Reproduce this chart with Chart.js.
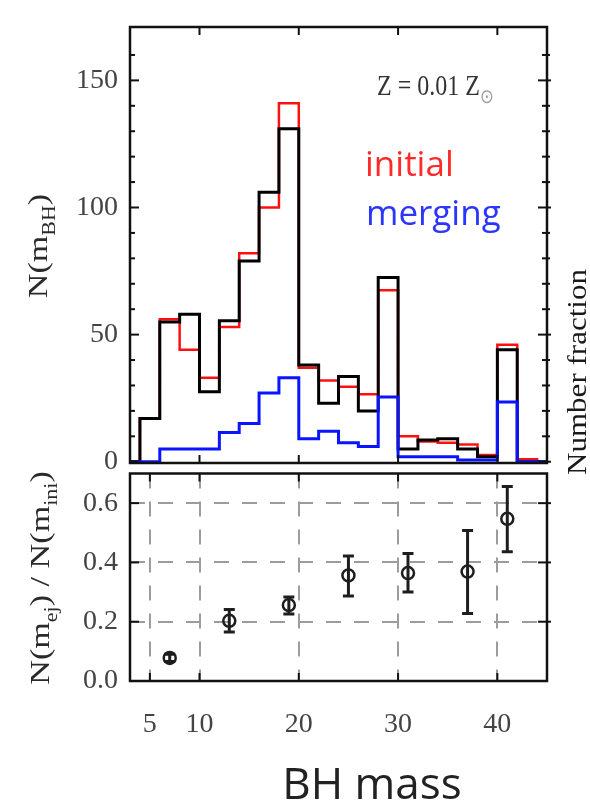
<!DOCTYPE html>
<html>
<head>
<meta charset="utf-8">
<script src="https://cdn.jsdelivr.net/npm/chart.js@4.4.1/dist/chart.umd.min.js"></script>
<style>
  body { margin: 0; background: #fff; }
  #wrap { position: relative; width: 590px; height: 803px; overflow: hidden; }
  canvas { position: absolute; left: 0; }
  #top { top: 0; }
  #bottom { top: 465px; }
</style>
</head>
<body>
<div id="wrap">
  <canvas id="top" width="590" height="480"></canvas>
  <canvas id="bottom" width="590" height="338"></canvas>
</div>
<script>
// histogram, bins 2 Msun wide, left edges
const binLow = [4, 6, 8, 10, 12, 14, 16, 18, 20, 22, 24, 26, 28, 30, 32, 34, 36, 38, 40, 42]
const initialCounts = [17, 56, 44, 33, 53, 82, 100, 141, 37, 32, 29.5, 26.5, 67.5, 10, 8, 7.5, 6.8, 2.6, 46, 1]
const ejectedCounts = [17, 55, 58, 27.5, 55.5, 79, 106, 131, 38, 23, 33.5, 20, 72.5, 5, 8.5, 9, 5, 2, 44, 0]
const mergingCounts = [0, 5, 5, 5, 11.5, 15, 27, 33, 9, 12, 7.5, 6, 25.5, 2, 2, 2, 0.7, 0.7, 23.5, 0]
const massMin = 3
const massMax = 45
const histYTicks = [0, 50, 100, 150]
const histYMinor = [10, 20, 30, 40, 60, 70, 80, 90, 110, 120, 130, 140, 160]
const histXTicks = [10, 20, 30, 40]

// ejected / initial ratio with error bars
const ratioMass = [7, 13, 19, 25, 31, 37, 41]
const ratioValue = [0.078, 0.203, 0.256, 0.356, 0.364, 0.369, 0.547]
const ratioLow = [0.066, 0.165, 0.226, 0.287, 0.300, 0.228, 0.436]
const ratioHigh = [0.090, 0.241, 0.283, 0.422, 0.430, 0.508, 0.656]
const ratioXTicks = [5, 10, 20, 30, 40]
const ratioYTicks = [0, 0.2, 0.4, 0.6]

const serif = 'Liberation Serif'

// one point per bin at its left edge, stepped 'before' holds it to the next edge
function stepPoints(counts){
  let pts = [{x: massMin, y: 0}]
  binLow.forEach((lo, i) => pts.push({x: lo, y: counts[i]}))
  pts.push({x: binLow[binLow.length - 1] + 2, y: 0})
  pts.push({x: massMax, y: 0})
  return pts
}

function fixWidth(w){
  return s => { s.width = w; s.paddingTop = 0; s.paddingBottom = 0 }
}

// frame + inward ticks
const frameTicks = {
  id: 'frameTicks',
  afterDatasetsDraw(chart, args, opts){
    const {ctx, chartArea: a, scales: {x, y}} = chart
    const seg = (x1, y1, x2, y2) => { ctx.beginPath(); ctx.moveTo(x1, y1); ctx.lineTo(x2, y2); ctx.stroke() }
    ctx.save()
    ctx.strokeStyle = '#111'
    ctx.lineWidth = 2
    opts.xMajor.forEach(v => {
      const px = x.getPixelForValue(v)
      seg(px, a.top, px, a.top + 8)
      seg(px, a.bottom, px, a.bottom - 8)
    })
    opts.yMajor.forEach(v => {
      const py = y.getPixelForValue(v)
      seg(a.left, py, a.left + 9, py)
      seg(a.right - 9, py, a.right + 4, py)
    })
    ;(opts.yMinor || []).forEach(v => {
      const py = y.getPixelForValue(v)
      seg(a.left, py, a.left + 5, py)
      seg(a.right - 5, py, a.right + 3, py)
    })
    ctx.lineWidth = 2.5
    ctx.strokeRect(a.left, a.top, a.right - a.left, a.bottom - a.top)
    ctx.restore()
  }
}

// free text with sub-scripts
const textLayer = {
  id: 'textLayer',
  afterDraw(chart, args, opts){
    const ctx = chart.ctx
    opts.items.forEach(item => {
      const size = item.size
      const fontOf = p => (p.sub ? Math.round(size * 0.65) : size) + 'px "' + item.family + '"'
      let w = 0
      item.parts.forEach(p => { ctx.font = fontOf(p); w += ctx.measureText(p.t).width })
      ctx.save()
      ctx.translate(item.x, item.y)
      if (item.rotate) ctx.rotate(-Math.PI / 2)
      ctx.scale(item.sx || 1, item.sy || 1)
      ctx.textBaseline = 'alphabetic'
      ctx.textAlign = 'left'
      let cx = item.align == 'center' ? -w / 2 : 0
      const base = item.rotate ? size * 0.33 : 0
      item.parts.forEach(p => {
        ctx.font = fontOf(p)
        ctx.fillStyle = p.color || item.color
        ctx.fillText(p.t, cx, base + (p.sub ? size * 0.28 : 0))
        cx += ctx.measureText(p.t).width
      })
      ctx.restore()
    })
  }
}

const tickFont = {family: serif, size: 28}

new Chart(document.getElementById('top'), {
  type: 'line',
  data: {
    datasets: [
      {label: 'merging', data: stepPoints(mergingCounts), borderColor: '#0a14ff', borderWidth: 3, order: 0},
      {label: 'ejected', data: stepPoints(ejectedCounts), borderColor: '#000000', borderWidth: 3, order: 1},
      {label: 'initial', data: stepPoints(initialCounts), borderColor: '#ff1010', borderWidth: 2.5, order: 2}
    ].map(d => Object.assign(d, {stepped: 'before', pointRadius: 0, fill: false}))
  },
  options: {
    responsive: false,
    animation: false,
    layout: {padding: {top: 27, right: 43, bottom: 17, left: 0}},
    scales: {
      x: {type: 'linear', min: massMin, max: massMax, display: false},
      y: {
        min: -0.5, max: 171,
        afterBuildTicks: s => { s.ticks = histYTicks.map(v => ({value: v})) },
        afterFit: fixWidth(130),
        grid: {display: false, drawTicks: false},
        border: {display: false},
        ticks: {font: tickFont, color: '#444', padding: 12}
      }
    },
    plugins: {
      legend: {display: false},
      tooltip: {enabled: false},
      frameTicks: {xMajor: histXTicks, yMajor: histYTicks, yMinor: histYMinor},
      textLayer: {items: [
        {parts: [{t: 'N(m'}, {t: 'BH', sub: true}, {t: ')'}], x: 38, y: 246, rotate: true, align: 'center',
          family: serif, size: 28, sx: 1.22, color: '#2a2a2a'},
        {parts: [{t: 'Number fraction'}], x: 577, y: 372, rotate: true, align: 'center',
          family: serif, size: 27, sx: 1.15, color: '#1a1a1a'},
        {parts: [{t: 'Z = 0.01 Z'}, {t: '\u2299', sub: true, color: '#999'}], x: 377, y: 95,
          family: serif, size: 24, sy: 1.22, color: '#333'},
        {parts: [{t: 'initial'}], x: 365, y: 176, family: 'Open Sans', size: 35, color: '#ff2a2a'},
        {parts: [{t: 'merging'}], x: 366, y: 225, family: 'Open Sans', size: 35, color: '#2a36ff'}
      ]}
    }
  },
  plugins: [frameTicks, textLayer]
})

// error bars drawn from the scales
const errorBars = {
  id: 'errorBars',
  beforeDatasetsDraw(chart){
    const {ctx, scales: {x, y}} = chart
    ctx.save()
    ctx.strokeStyle = '#1e1e1e'
    ctx.lineWidth = 3
    ratioMass.forEach((m, i) => {
      const px = x.getPixelForValue(m)
      const top = y.getPixelForValue(ratioHigh[i])
      const bot = y.getPixelForValue(ratioLow[i])
      ctx.beginPath()
      ctx.moveTo(px, top); ctx.lineTo(px, bot)
      ctx.moveTo(px - 5.5, top); ctx.lineTo(px + 5.5, top)
      ctx.moveTo(px - 5.5, bot); ctx.lineTo(px + 5.5, bot)
      ctx.stroke()
    })
    ctx.restore()
  }
}

const dashedGrid = ctx => (ctx.tick && ctx.tick.value === 0) ? 'rgba(0,0,0,0)' : '#9c9c9c'

new Chart(document.getElementById('bottom'), {
  type: 'scatter',
  data: {
    datasets: [{
      label: 'N(m_ej) / N(m_ini)',
      data: ratioMass.map((m, i) => ({x: m, y: ratioValue[i]})),
      pointStyle: 'circle',
      pointRadius: 6,
      borderWidth: 2.5,
      borderColor: '#1e1e1e',
      backgroundColor: 'rgba(255,255,255,0)'
    }]
  },
  options: {
    responsive: false,
    animation: false,
    layout: {padding: {top: 7, right: 43, bottom: 0, left: 0}},
    scales: {
      x: {
        type: 'linear', min: massMin, max: massMax,
        afterBuildTicks: s => { s.ticks = ratioXTicks.map(v => ({value: v})) },
        afterFit: s => { s.height = 122; s.paddingLeft = 0; s.paddingRight = 0 },
        grid: {color: dashedGrid, lineWidth: 2, drawTicks: false},
        border: {display: false, dash: [15, 13]},
        ticks: {font: tickFont, color: '#444', padding: 27, autoSkip: false, maxRotation: 0}
      },
      y: {
        min: 0, max: 0.7,
        afterBuildTicks: s => { s.ticks = ratioYTicks.map(v => ({value: v})) },
        afterFit: fixWidth(130),
        grid: {color: dashedGrid, lineWidth: 2, drawTicks: false},
        border: {display: false, dash: [15, 13]},
        ticks: {font: tickFont, color: '#444', padding: 12, callback: v => v.toFixed(1)}
      }
    },
    plugins: {
      legend: {display: false},
      tooltip: {enabled: false},
      frameTicks: {xMajor: ratioXTicks, yMajor: ratioYTicks.slice(1)},
      textLayer: {items: [
        {parts: [{t: 'N(m'}, {t: 'ej', sub: true}, {t: ') / N(m'}, {t: 'ini', sub: true}, {t: ')'}],
          x: 40, y: 113, rotate: true, align: 'center', family: serif, size: 28, sx: 1.22, color: '#2a2a2a'},
        {parts: [{t: 'BH mass'}], x: 372, y: 334, align: 'center', family: 'Open Sans', size: 44, color: '#222'}
      ]}
    }
  },
  plugins: [errorBars, frameTicks, textLayer]
})
</script>
</body>
</html>
